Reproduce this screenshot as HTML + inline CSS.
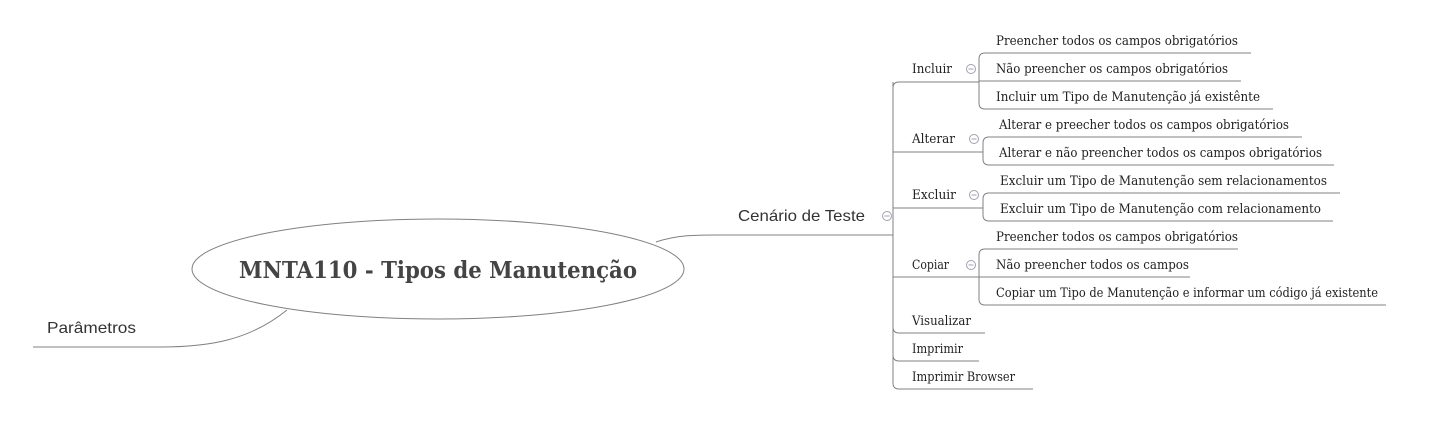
<!DOCTYPE html>
<html><head><meta charset="utf-8"><style>
html,body{margin:0;padding:0;background:#fff;}
svg{display:block}
.s{font-family:"DejaVu Serif","Liberation Serif",serif;font-size:13px;fill:#222;}
.n{font-family:"Liberation Sans",sans-serif;fill:#333;}
</style></head><body>
<svg width="1437" height="444" viewBox="0 0 1437 444" xmlns="http://www.w3.org/2000/svg">
<g fill="none" stroke="#808080" stroke-width="1">
<ellipse cx="438" cy="269" rx="246" ry="50"/>
<path d="M656 242 C680 234 700 235 730 235 L893 235"/>
<path d="M287 310 C250 340 210 347 160 347 L33 347"/>
<path d="M893 88 Q893 82 899 82 L979 82"/>
<path d="M893 82 L893 383 Q893 389 899 389 L1033 389"/>
<path d="M893 152 L983 152"/>
<path d="M893 208 L983 208"/>
<path d="M893 277 L979 277"/>
<path d="M893 327 Q893 333 899 333 L985 333"/>
<path d="M893 355 Q893 361 899 361 L979 361"/>
<path d="M979 82 L979 59 Q979 53 985 53 L1251 53"/>
<path d="M979 81 L1241 81"/>
<path d="M979 82 L979 103 Q979 109 985 109 L1273 109"/>
<path d="M983 152 L983 143 Q983 137 989 137 L1302 137"/>
<path d="M983 152 L983 159 Q983 165 989 165 L1334 165"/>
<path d="M983 208 L983 199 Q983 193 989 193 L1340 193"/>
<path d="M983 208 L983 215 Q983 221 989 221 L1333 221"/>
<path d="M979 277 L979 255 Q979 249 985 249 L1238 249"/>
<path d="M979 277 L1190 277"/>
<path d="M979 277 L979 299 Q979 305 985 305 L1386 305"/>
</g>
<g fill="#fff" stroke="#a0a0b0" stroke-width="1">
<circle cx="971" cy="69" r="4.5"/><circle cx="974" cy="139" r="4.5"/><circle cx="974" cy="195" r="4.5"/><circle cx="971" cy="265" r="4.5"/><circle cx="887" cy="216" r="4.5"/>
</g>
<g stroke="#a0a0b0"><path d="M968.5 69h5M971.5 139h5M971.5 195h5M968.5 265h5M884.5 216h5"/></g>
<text x="438" y="278" text-anchor="middle" font-family="'DejaVu Serif','Liberation Serif',serif" font-weight="bold" font-size="23" fill="#444" textLength="398" lengthAdjust="spacingAndGlyphs">MNTA110 - Tipos de Manutenção</text>
<text class="n" x="738" y="221" font-size="16" textLength="127" lengthAdjust="spacingAndGlyphs">Cenário de Teste</text>
<text class="n" x="47" y="333" font-size="16" textLength="89" lengthAdjust="spacingAndGlyphs">Parâmetros</text>
<g class="s">
<text x="912" y="73" textLength="40" lengthAdjust="spacingAndGlyphs">Incluir</text>
<text x="912" y="143" textLength="43" lengthAdjust="spacingAndGlyphs">Alterar</text>
<text x="912" y="199" textLength="44" lengthAdjust="spacingAndGlyphs">Excluir</text>
<text x="912" y="269" textLength="37" lengthAdjust="spacingAndGlyphs">Copiar</text>
<text x="912" y="325" textLength="59" lengthAdjust="spacingAndGlyphs">Visualizar</text>
<text x="912" y="353" textLength="51" lengthAdjust="spacingAndGlyphs">Imprimir</text>
<text x="912" y="381" textLength="103" lengthAdjust="spacingAndGlyphs">Imprimir Browser</text>
<text x="996" y="45" textLength="242" lengthAdjust="spacingAndGlyphs">Preencher todos os campos obrigatórios</text>
<text x="996" y="73" textLength="232" lengthAdjust="spacingAndGlyphs">Não preencher os campos obrigatórios</text>
<text x="996" y="101" textLength="264" lengthAdjust="spacingAndGlyphs">Incluir um Tipo de Manutenção já existênte</text>
<text x="999" y="129" textLength="290" lengthAdjust="spacingAndGlyphs">Alterar e preecher todos os campos obrigatórios</text>
<text x="999" y="157" textLength="323" lengthAdjust="spacingAndGlyphs">Alterar e não preencher todos os campos obrigatórios</text>
<text x="1000" y="185" textLength="327" lengthAdjust="spacingAndGlyphs">Excluir um Tipo de Manutenção sem relacionamentos</text>
<text x="1000" y="213" textLength="321" lengthAdjust="spacingAndGlyphs">Excluir um Tipo de Manutenção com relacionamento</text>
<text x="996" y="241" textLength="242" lengthAdjust="spacingAndGlyphs">Preencher todos os campos obrigatórios</text>
<text x="996" y="269" textLength="193" lengthAdjust="spacingAndGlyphs">Não preencher todos os campos</text>
<text x="996" y="297" textLength="382" lengthAdjust="spacingAndGlyphs">Copiar um Tipo de Manutenção e informar um código já existente</text>
</g>
</svg>
</body></html>
